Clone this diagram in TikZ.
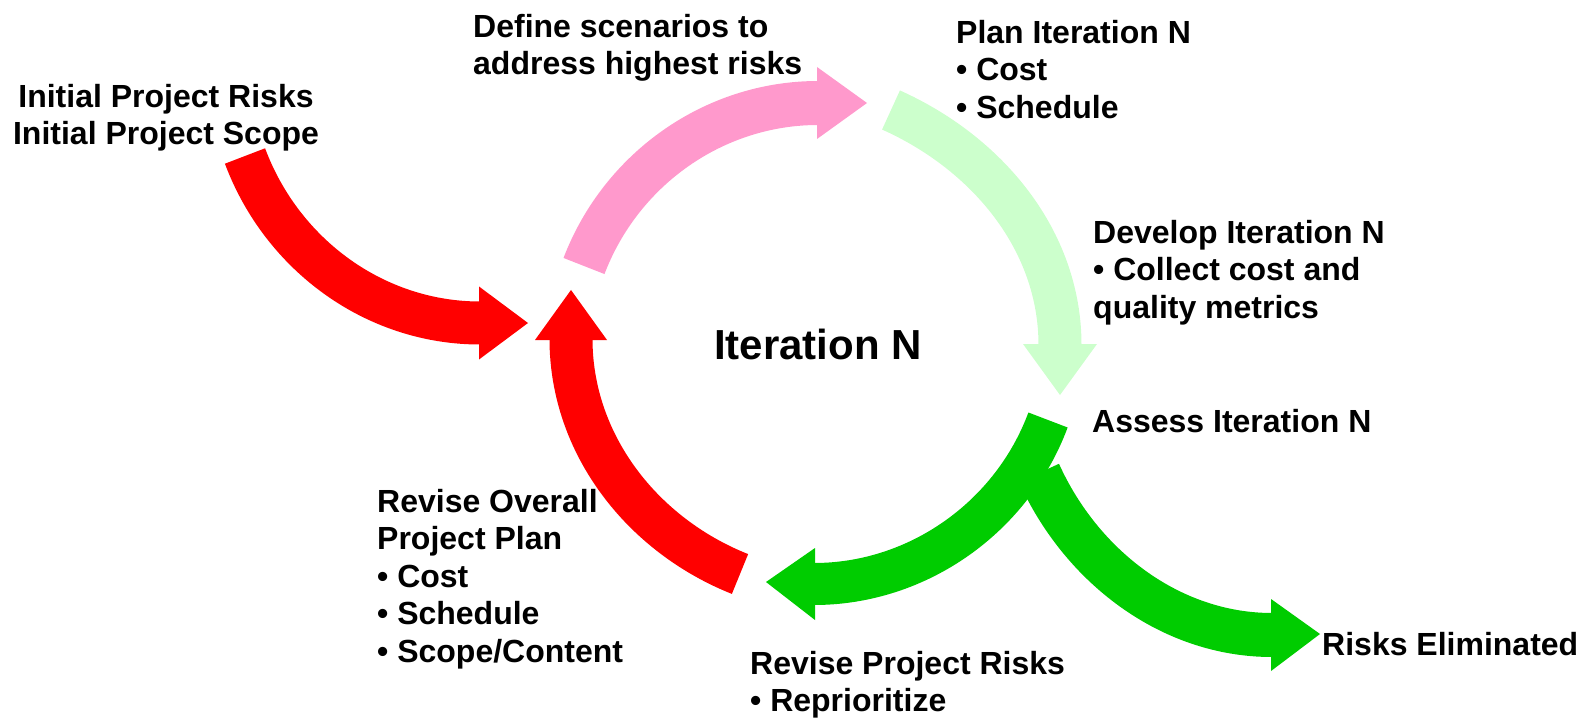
\documentclass[tikz,border=0pt]{standalone}
\usepackage{fontspec}
\setmainfont{Liberation Sans}
\definecolor{cred}{HTML}{FF0000}
\definecolor{cpink}{HTML}{FF99CC}
\definecolor{clight}{HTML}{CCFFCC}
\definecolor{cgreen}{HTML}{00CC00}
\begin{document}
\begin{tikzpicture}[x=1pt,y=-1pt,
  lbl/.style={inner sep=0pt, font=\bfseries\fontsize{32}{37.5}\selectfont, align=left, anchor=north west},
  lblone/.style={inner sep=0pt, font=\bfseries\fontsize{32}{37.5}\selectfont, anchor=base west},
  shaft/.style={line width=43pt},
  headfill/.style={draw=none}
]
\useasboundingbox (0,0) rectangle (1587,719);

% coordinates of the block arrows
\coordinate (r1t) at (245,156); \coordinate (r1a) at (282,255); \coordinate (r1b) at (375,323); \coordinate (r1h) at (480,323);
\coordinate (pt) at (584,266);  \coordinate (pa) at (621,169);  \coordinate (pb) at (714,103);  \coordinate (ph) at (818,103);
\coordinate (lt) at (891,110);  \coordinate (la) at (987,153);  \coordinate (lb) at (1060,240); \coordinate (lh) at (1060,345);
\coordinate (r2t) at (740,574); \coordinate (r2a) at (642,535); \coordinate (r2b) at (571,444); \coordinate (r2h) at (571,339);
\coordinate (g1t) at (1048,420); \coordinate (g1a) at (1012,517); \coordinate (g1b) at (918,584); \coordinate (g1h) at (814,584);
\coordinate (g2t) at (1039,473); \coordinate (g2a) at (1081,566); \coordinate (g2b) at (1170,635); \coordinate (g2h) at (1272,635);

% red: initial -> cycle
\draw[shaft, cred] (r1t) .. controls (r1a) and (r1b) .. (r1h);
\fill[cred] (r1h) ++(-1,-36.5) -- ++(49,36.5) -- ++(-49,36.5) -- cycle;

% pink
\draw[shaft, cpink, line width=44pt] (pt) .. controls (pa) and (pb) .. (ph);
\fill[cpink] (ph) ++(-1,-36) -- ++(50,36) -- ++(-50,36) -- cycle;

% light green
\draw[shaft, clight] (lt) .. controls (la) and (lb) .. (lh);
\fill[clight] (lh) ++(-37,-1) -- ++(37,51) -- ++(37,-51) -- cycle;

% red: revise plan -> cycle
\draw[shaft, cred] (r2t) .. controls (r2a) and (r2b) .. (r2h);
\fill[cred] (r2h) ++(-36,1) -- ++(36,-50) -- ++(36,50) -- cycle;

% green: to risks eliminated
\draw[shaft, cgreen, line width=44pt] (g2t) .. controls (g2a) and (g2b) .. (g2h);
\fill[cgreen] (g2h) ++(-1,-36) -- ++(49,35) -- ++(-49,37) -- cycle;

% green: to revise project risks
\draw[shaft, cgreen, line width=42pt] (g1t) .. controls (g1a) and (g1b) .. (g1h);
\fill[cgreen] (g1h) ++(1,-36) -- ++(-49,34) -- ++(49,38) -- cycle;

% labels
\node[lbl, align=center, anchor=north] (n1) at (166,81) {\strut Initial Project Risks\\Initial Project Scope};
\node[lbl] (n2) at (473,11) {\strut Define scenarios to\\address highest risks};
\node[lbl] (n3) at (956,16.6) {\strut Plan Iteration N\\• Cost\\• Schedule};
\node[lbl] (n4) at (1093,217) {\strut Develop Iteration N\\• Collect cost and\\quality metrics};
\node[inner sep=0pt, anchor=base, font=\bfseries\fontsize{42}{48}\selectfont] (n5) at (818,359) {Iteration N};
\node[lblone] (n6) at (1092,432) {Assess Iteration N};
\node[lbl] (n7) at (377,486) {\strut Revise Overall\\Project Plan\\• Cost\\• Schedule\\• Scope/Content};
\node[lbl] (n8) at (750,648) {\strut Revise Project Risks\\• Reprioritize};
\node[lblone] (n9) at (1322,655) {Risks Eliminated};
\end{tikzpicture}
\end{document}
